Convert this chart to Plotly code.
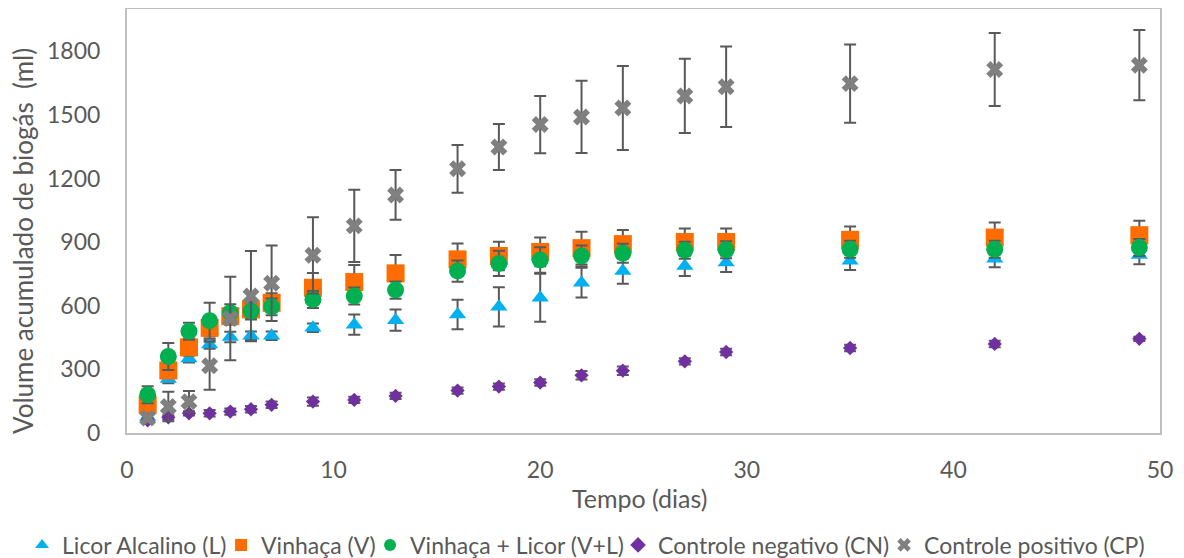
import plotly.graph_objects as go

days = [1, 2, 3, 4, 5, 6, 7, 9, 11, 13, 16, 18, 20, 22, 24, 27, 29, 35, 42, 49]

licor = [75, 255, 352, 417, 453, 459, 459, 496, 511, 532, 559, 595, 638, 709, 764, 788, 804, 812, 822, 840]
licor_err = [15, 20, 20, 20, 25, 20, 20, 20, 48, 50, 70, 93, 113, 70, 60, 48, 45, 43, 40, 44]

vinhaca = [133, 295, 404, 496, 551, 583, 614, 685, 712, 753, 819, 835, 854, 872, 891, 901, 901, 911, 922, 933]
vinhaca_err = [20, 30, 40, 40, 40, 40, 45, 70, 80, 87, 75, 67, 68, 77, 66, 64, 64, 63, 71, 68]

vl = [180, 361, 480, 530, 567, 575, 595, 630, 646, 674, 764, 800, 816, 835, 848, 862, 864, 867, 867, 875]
vl_err = [40, 64, 40, 84, 40, 40, 40, 40, 40, 41, 50, 60, 60, 50, 45, 40, 40, 40, 40, 40]

cn = [60, 74, 93, 93, 101, 112, 133, 148, 156, 175, 200, 219, 238, 272, 294, 338, 382, 401, 420, 444]
cn_err = [10, 10, 10, 15, 15, 15, 15, 20, 15, 15, 15, 15, 15, 20, 20, 15, 15, 15, 15, 10]

cp = [71, 125, 148, 317, 540, 646, 706, 838, 977, 1123, 1246, 1349, 1455, 1491, 1533, 1590, 1633, 1648, 1715, 1735]
cp_err = [20, 70, 50, 113, 197, 213, 178, 180, 170, 117, 113, 108, 135, 170, 198, 175, 190, 185, 172, 166]

names = ["Licor Alcalino (L)", "Vinhaça (V)", "Vinhaça + Licor (V+L)",
         "Controle negativo (CN)", "Controle positivo (CP)"]
x_ticks = [0, 10, 20, 30, 40, 50]
y_ticks = [0, 300, 600, 900, 1200, 1500, 1800]
x_title = "Tempo (dias)"
y_title = "Volume acumulado de biogás  (ml)"

FONT = "Lato"
TXT = "#595959"
ERR = "#595959"

series = [
    (licor, licor_err, "triangle-up", "#00B0F0", 15, 154),
    (vinhaca, vinhaca_err, "square", "#FF6D00", 18, 104),
    (vl, vl_err, "circle", "#00B050", 17, 203),
    (cn, cn_err, "diamond", "#7030A0", 11, 221),
    (cp, cp_err, "x", "#808080", 15, 235),
]

fig = go.Figure()
for (vals, err, sym, col, sz, lw), nm in zip(series, names):
    fig.add_trace(go.Scatter(
        x=days, y=vals, mode="markers", name=nm,
        marker=dict(symbol=sym, color=col, size=sz, line=dict(width=0)),
        legendwidth=lw,
        error_y=dict(type="data", array=err, visible=True, color=ERR,
                     thickness=2, width=6),
    ))

# page body adds an 8px margin, so the figure is drawn 8px smaller
fig.update_layout(
    width=1176, height=550,
    margin=dict(l=119, r=24, t=1, b=125, autoexpand=False),
    paper_bgcolor="white", plot_bgcolor="white",
    font=dict(family=FONT, size=23, color=TXT),
    showlegend=True,
    legend=dict(orientation="h", x=-0.1016, xanchor="left", y=-0.264,
                yanchor="middle", font=dict(size=23, color=TXT),
                itemsizing="constant", tracegroupgap=0),
    xaxis=dict(range=[0, 50], tickvals=x_ticks, showgrid=False, zeroline=False,
               showline=True, linecolor="#BFBFBF", linewidth=2, mirror=True,
               ticks="", ticklabelstandoff=15, automargin=False),
    yaxis=dict(range=[0, 2000], tickvals=y_ticks, showgrid=False, zeroline=False,
               showline=True, linecolor="#BFBFBF", linewidth=2, mirror=True,
               ticks="", ticklabelstandoff=20, automargin=False),
    annotations=[
        dict(text=y_title, textangle=-90, xref="paper", yref="paper",
             x=-0.1007, y=0.4528, xanchor="center", yanchor="middle",
             showarrow=False, font=dict(size=26, color=TXT)),
        dict(text=x_title, xref="paper", yref="paper",
             x=0.4966, y=-0.1533, xanchor="center", yanchor="middle",
             showarrow=False, font=dict(size=25, color=TXT)),
    ],
)

fig.write_html("out.html")
